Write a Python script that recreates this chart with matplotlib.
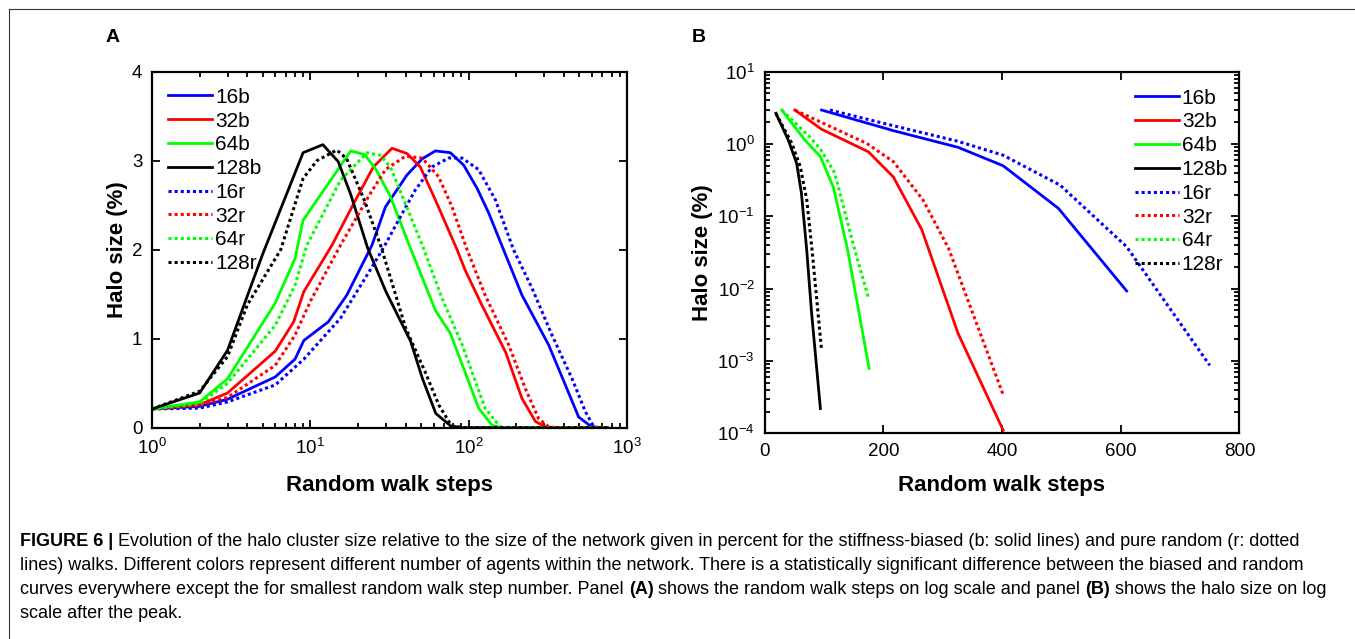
import matplotlib
matplotlib.use("Agg")
import matplotlib.pyplot as plt
from matplotlib.ticker import NullLocator, FixedLocator
from matplotlib.lines import Line2D

plt.rcParams['font.family'] = ['Liberation Sans', 'DejaVu Sans']
plt.rcParams['mathtext.fontset'] = 'custom'
plt.rcParams['mathtext.rm'] = 'Liberation Sans'

# =========================
# Panel A data (random walk steps on log scale)
# =========================
a_x_16b = [1, 2, 3, 6, 8, 9.1, 13, 17, 24.5, 29.8, 40.8, 50.8, 61.6, 76.6, 93, 113, 134, 166, 217, 320, 408, 495, 587, 650, 750]
a_y_16b = [0.21, 0.24, 0.32, 0.57, 0.77, 0.98, 1.19, 1.49, 2.05, 2.48, 2.84, 3.02, 3.11, 3.09, 2.95, 2.69, 2.41, 2.0, 1.49, 0.93, 0.48, 0.12, 0.02, 0, 0]
a_x_32b = [1, 2, 3, 6, 7.85, 9.1, 13.7, 18.8, 25, 32.8, 40.8, 49.5, 61.6, 84.5, 95, 121, 171, 217, 264, 305, 340, 750]
a_y_32b = [0.21, 0.26, 0.39, 0.86, 1.19, 1.53, 2.05, 2.52, 2.93, 3.14, 3.08, 2.93, 2.56, 2.0, 1.77, 1.38, 0.85, 0.33, 0.07, 0.01, 0, 0]
a_x_64b = [1, 2, 3, 6, 8, 9, 18, 22, 26, 32, 42.8, 61.6, 76.6, 115.6, 140, 160, 750]
a_y_64b = [0.21, 0.29, 0.55, 1.40, 1.90, 2.33, 3.11, 3.07, 2.90, 2.60, 2.02, 1.32, 1.06, 0.22, 0.03, 0, 0]
a_x_128b = [1, 2, 3, 4, 5, 9, 12, 15, 18, 23, 30, 43, 51, 62, 77, 90, 750]
a_y_128b = [0.21, 0.39, 0.87, 1.48, 1.95, 3.09, 3.18, 2.99, 2.62, 2.02, 1.53, 0.97, 0.555, 0.16, 0.02, 0, 0]
a_x_16r = [1, 2, 3, 6, 9.1, 15.5, 25, 30, 36, 46, 58.7, 74.8, 90.8, 115.6, 147.5, 192, 251, 336, 450, 546, 617, 680, 750]
a_y_16r = [0.21, 0.22, 0.29, 0.48, 0.77, 1.23, 1.83, 2.07, 2.33, 2.67, 2.93, 3.03, 3.03, 2.90, 2.56, 2.0, 1.57, 1.04, 0.55, 0.18, 0.01, 0, 0]
a_x_32r = [1, 2, 3, 6, 8, 10, 15.5, 23.9, 29.8, 39.8, 50.8, 64.6, 78.5, 97.7, 127, 179, 228, 277, 320, 360, 750]
a_y_32r = [0.21, 0.25, 0.34, 0.70, 1.04, 1.42, 2.05, 2.63, 2.90, 3.05, 3.03, 2.82, 2.48, 2.0, 1.49, 0.93, 0.44, 0.10, 0.01, 0, 0]
a_x_64r = [1, 2, 3, 6, 8, 9.5, 15.5, 22.8, 27.7, 32, 51, 68, 91, 127, 158, 180, 750]
a_y_64r = [0.21, 0.27, 0.50, 1.15, 1.60, 2.05, 2.78, 3.09, 3.06, 2.93, 2.05, 1.45, 0.93, 0.22, 0.01, 0, 0]
a_x_128r = [1, 2, 3, 4, 6.5, 9, 11, 14.7, 17, 22, 28, 40, 53, 65, 78, 95, 750]
a_y_128r = [0.21, 0.41, 0.80, 1.38, 2.0, 2.80, 3.0, 3.12, 3.02, 2.55, 2.03, 1.12, 0.63, 0.25, 0.02, 0, 0]

# =========================
# Panel B data (halo size on log scale after the peak)
# =========================
b_x_16b = [96, 217, 326, 402, 495, 610]
b_y_16b = [2.95, 1.53, 0.90, 0.50, 0.129, 0.0093]
b_x_32b = [51, 96, 175, 217, 265, 326, 402]
b_y_32b = [2.95, 1.6, 0.78, 0.35, 0.065, 0.0024, 1.1e-4]
b_x_64b = [29, 68, 94, 116, 140, 176]
b_y_64b = [2.95, 1.13, 0.67, 0.25, 0.034, 7.9e-4]
b_x_128b = [19, 40, 54, 62, 71, 79, 94]
b_y_128b = [2.66, 1.13, 0.54, 0.21, 0.034, 0.0048, 2.2e-4]
b_x_16r = [110, 217, 324, 402, 498, 610, 750]
b_y_16r = [2.95, 1.79, 1.1, 0.70, 0.27, 0.038, 8.7e-4]
b_x_32r = [51, 172, 217, 267, 310, 402]
b_y_32r = [2.95, 1.02, 0.57, 0.168, 0.036, 3.4e-4]
b_x_64r = [29, 76, 95, 118, 152, 175]
b_y_64r = [2.95, 1.26, 0.83, 0.40, 0.034, 0.0075]
b_x_128r = [19, 46, 60, 71, 80, 96]
b_y_128r = [2.66, 1.02, 0.49, 0.17, 0.034, 0.0014]

labels = ["16b", "32b", "64b", "128b", "16r", "32r", "64r", "128r"]
colors = ["#0000ff", "#ff0000", "#00ff00", "#000000"] * 2

a_series = [(a_x_16b, a_y_16b), (a_x_32b, a_y_32b), (a_x_64b, a_y_64b), (a_x_128b, a_y_128b),
            (a_x_16r, a_y_16r), (a_x_32r, a_y_32r), (a_x_64r, a_y_64r), (a_x_128r, a_y_128r)]
b_series = [(b_x_16b, b_y_16b), (b_x_32b, b_y_32b), (b_x_64b, b_y_64b), (b_x_128b, b_y_128b),
            (b_x_16r, b_y_16r), (b_x_32r, b_y_32r), (b_x_64r, b_y_64r), (b_x_128r, b_y_128r)]

# =========================
# Figure layout
# =========================
W, H = 1355, 639
fig = plt.figure(figsize=(W / 100, H / 100), dpi=100)


def px_rect(l, t, r, b):
    return [l / W, 1 - b / H, (r - l) / W, (b - t) / H]


axA = fig.add_axes(px_rect(152, 71.7, 627, 427.7))
axB = fig.add_axes(px_rect(764.6, 71.7, 1239.4, 433.3))

tick_fs = 13.5
leg_fs = 15
label_fs = 16

for i, lab in enumerate(labels):
    ls = "-" if i < 4 else (0, (1, 1))
    lw = 2.0 if i < 4 else 2.2
    axA.plot(a_series[i][0], a_series[i][1], color=colors[i], linestyle=ls, linewidth=lw, label=lab)
    axB.plot(b_series[i][0], b_series[i][1], color=colors[i], linestyle=ls, linewidth=lw, label=lab)

# panel A axes
axA.set_xscale("log")
axA.set_xlim(1, 1000)
axA.set_ylim(0, 4)
axA.yaxis.set_major_locator(FixedLocator([0, 1, 2, 3, 4]))
axA.yaxis.set_minor_locator(NullLocator())

# panel B axes
axB.set_yscale("log")
axB.set_xlim(0, 800)
axB.set_ylim(1e-4, 10)
axB.xaxis.set_major_locator(FixedLocator([0, 200, 400, 600, 800]))
axB.xaxis.set_minor_locator(NullLocator())

for ax in (axA, axB):
    ax.tick_params(which="both", direction="in", top=True, right=True, labelsize=tick_fs, width=1.3)
    ax.tick_params(which="major", length=6, pad=7)
    ax.tick_params(which="minor", length=3.5)
    for sp in ax.spines.values():
        sp.set_linewidth(1.6)
    ax.set_xlabel("Random walk steps", fontsize=label_fs, fontweight="bold")
    ax.set_ylabel("Halo size (%)", fontsize=label_fs, fontweight="bold")
    ax.xaxis.label.set_va("center")
    ax.yaxis.label.set_va("center")

axA.xaxis.set_label_coords(0.5, -0.161)
axA.yaxis.set_label_coords((118 - 152) / 475, 0.5)
axB.xaxis.set_label_coords(0.5, -0.143)
axB.yaxis.set_label_coords((703 - 764.6) / 474.8, 0.5)

leg_kw = dict(frameon=False, fontsize=leg_fs, handlelength=2.1, handletextpad=0.15,
              labelspacing=0.23, borderpad=0, borderaxespad=0)
axA.legend(loc="upper left", bbox_to_anchor=(0.034, 0.955), **leg_kw)
axB.legend(loc="upper right", bbox_to_anchor=(0.976, 0.953), **leg_kw)

# panel letters
fig.text(113 / W, 1 - 37 / H, "A", fontsize=14, fontweight="bold", ha="center", va="center")
fig.text(699 / W, 1 - 37 / H, "B", fontsize=14, fontweight="bold", ha="center", va="center")

# figure frame
fig.add_artist(Line2D([8.5 / W, 8.5 / W], [1 - 8.5 / H, 0], transform=fig.transFigure, color="#333333", lw=0.8))
fig.add_artist(Line2D([8.5 / W, 1], [1 - 8.5 / H, 1 - 8.5 / H], transform=fig.transFigure, color="#333333", lw=0.8))

# =========================
# Caption
# =========================
cap_family = ["Liberation Sans Narrow", "Liberation Sans"]
cap_fs = 13
cap_lines = [
    [("FIGURE 6 |", True),
     (" Evolution of the halo cluster size relative to the size of the network given in percent for the stiffness-biased (b: solid lines) and pure random (r: dotted", False)],
    [("lines) walks. Different colors represent different number of agents within the network. There is a statistically significant difference between the biased and random", False)],
    [("curves everywhere except the for smallest random walk step number. Panel ", False), ("(A)", True),
     (" shows the random walk steps on log scale and panel ", False), ("(B)", True),
     (" shows the halo size on log", False)],
    [("scale after the peak.", False)],
]
cap_y = [541, 565, 589, 613]

renderer = fig.canvas.get_renderer()
for segs, yy in zip(cap_lines, cap_y):
    x = 20
    for text, bold in segs:
        t = fig.text(x / W, 1 - yy / H, text, fontsize=cap_fs, family=cap_family,
                     fontweight="bold" if bold else "normal", ha="left", va="center")
        x = t.get_window_extent(renderer).x1

fig.savefig("out.png", dpi=100)
